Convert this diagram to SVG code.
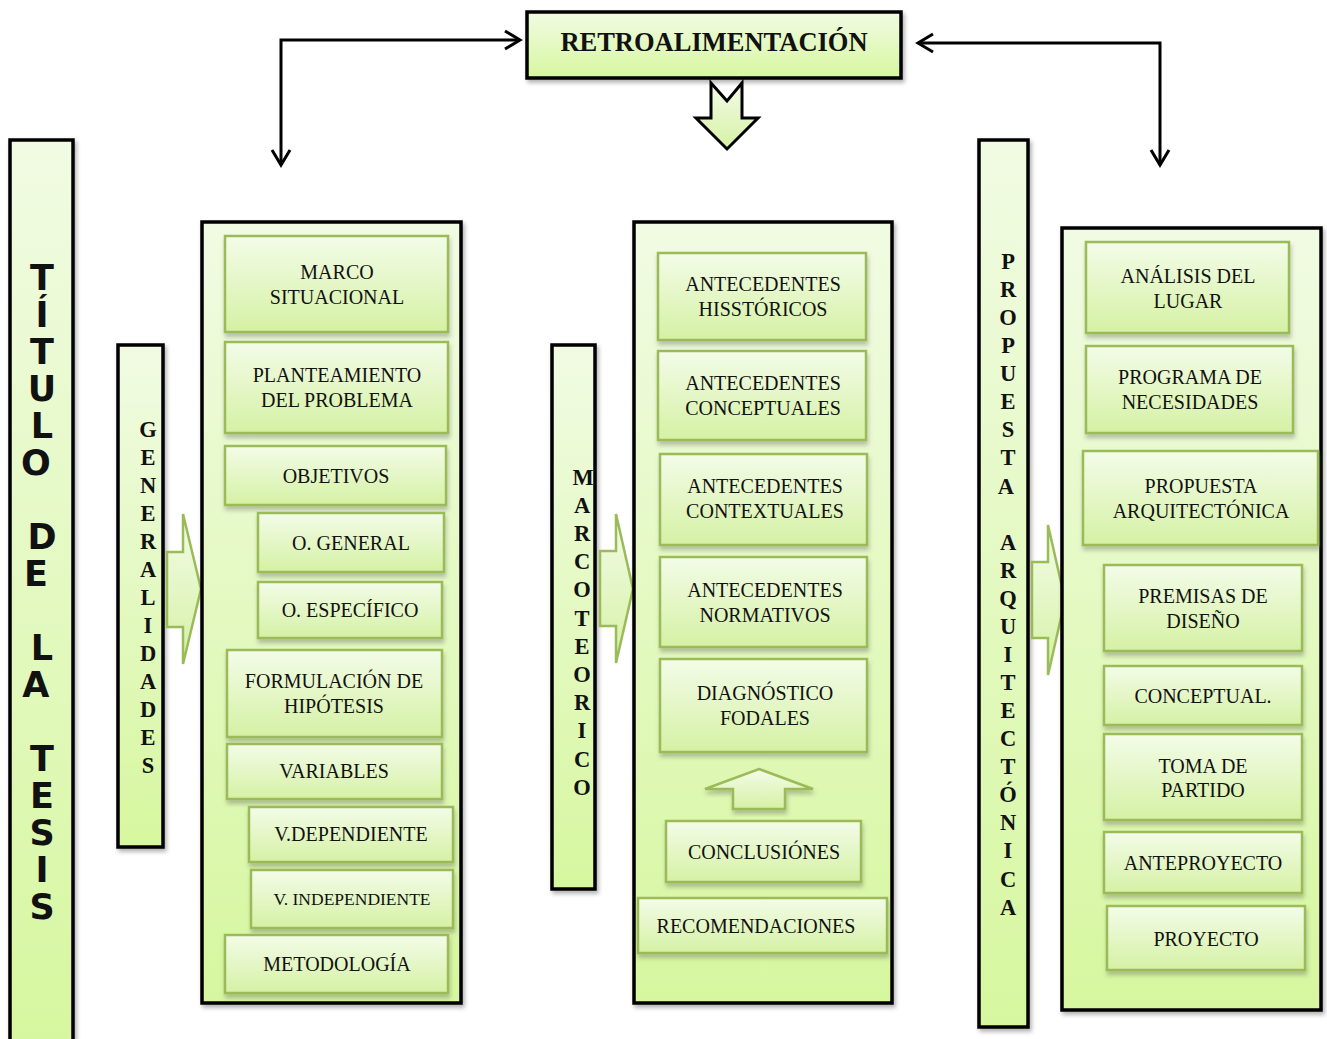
<svg xmlns="http://www.w3.org/2000/svg" width="1327" height="1039" viewBox="0 0 1327 1039">
<defs>
<linearGradient id="gb" x1="0" y1="0" x2="0" y2="1">
<stop offset="0" stop-color="#f3fce8"/><stop offset="1" stop-color="#d5f1a4"/>
</linearGradient>
<linearGradient id="gc" x1="0" y1="0" x2="0" y2="1">
<stop offset="0" stop-color="#f1fbe3"/><stop offset="1" stop-color="#d6f79f"/>
</linearGradient>
<filter id="sh" x="-10%" y="-10%" width="130%" height="130%">
<feDropShadow dx="2" dy="3" stdDeviation="2" flood-color="#000" flood-opacity="0.3"/>
</filter>
<filter id="shs" x="-10%" y="-10%" width="130%" height="130%">
<feDropShadow dx="1" dy="4" stdDeviation="2" flood-color="#555" flood-opacity="0.35"/>
</filter>
<marker id="ab" viewBox="0 0 24 24" refX="21" refY="12" markerWidth="24" markerHeight="24" orient="auto-start-reverse" markerUnits="userSpaceOnUse">
<path d="M6,3 L21,12 L6,21" fill="none" stroke="#000" stroke-width="3"/>
</marker>
<marker id="ag" viewBox="0 0 24 24" refX="22" refY="12" markerWidth="24" markerHeight="24" orient="auto" markerUnits="userSpaceOnUse">
<path d="M6,3 L22,12 L6,21" fill="none" stroke="#9bbb59" stroke-width="2.2"/>
</marker>
</defs>
<style>
.cont{fill:url(#gc);stroke:#000;stroke-width:3.5;filter:url(#sh)}
.bar{fill:url(#gc);stroke:#000;stroke-width:3.5;filter:url(#sh)}
.box{fill:url(#gb);stroke:#9bbb59;stroke-width:2.5;filter:url(#shs)}
.blk{fill:url(#gb);stroke:#9bbb59;stroke-width:2.5}
.lbl{font-family:"Liberation Serif","Times New Roman",serif;font-size:20px;fill:#111;text-anchor:middle}
.vt{font-family:"Liberation Serif","Times New Roman",serif;font-size:22.5px;font-weight:bold;fill:#111;text-anchor:middle}
.tt{font-family:"DejaVu Sans","Liberation Sans",sans-serif;font-size:35px;font-weight:bold;fill:#111;text-anchor:middle}
.gl{fill:none;stroke:#9bbb59;stroke-width:2.2}
.bl{fill:none;stroke:#000;stroke-width:3}
</style>

<g id="connectors">
<path class="bl" d="M281,165 V40 H520" marker-start="url(#ab)" marker-end="url(#ab)"/>
<path class="bl" d="M918,43 H1160 V165" marker-start="url(#ab)" marker-end="url(#ab)"/>
<path class="gl" d="M226,478 H212 V611"/>
<path class="gl" d="M212,546 H253" marker-end="url(#ag)"/>
<path class="gl" d="M212,611 H253" marker-end="url(#ag)"/>
<path class="gl" d="M228,768 H212 V900"/>
<path class="gl" d="M212,835 H252" marker-end="url(#ag)"/>
<path class="gl" d="M212,900 H252" marker-end="url(#ag)"/>
<path class="gl" d="M1085,493 H1072 V935"/>
<path class="gl" d="M1072,605 H1105" marker-end="url(#ag)"/>
<path class="gl" d="M1072,693 H1105" marker-end="url(#ag)"/>
<path class="gl" d="M1072,766 H1105" marker-end="url(#ag)"/>
<path class="gl" d="M1072,853 H1105" marker-end="url(#ag)"/>
<path class="gl" d="M1072,935 H1108" marker-end="url(#ag)"/>
</g>

<g id="retroalimentacion">
<rect class="cont" x="527" y="12" width="374" height="66"/>
<text x="714" y="51" style="font-family:'Liberation Serif',serif;font-size:26.5px;font-weight:bold;fill:#111;text-anchor:middle">RETROALIMENTACIÓN</text>
</g>
<g id="down-arrow">
<path d="M711,83 L727,101 L742,83 L742,118 L758,118 L727,149 L696,118 L711,118 Z" fill="url(#gb)" stroke="#000" stroke-width="3" stroke-linejoin="miter"/>
</g>

<g id="titulo">
<rect class="bar" x="10" y="140" width="63" height="905"/>
<text class="tt">
<tspan x="42" y="290">T</tspan><tspan x="42" y="327">Í</tspan><tspan x="42" y="364">T</tspan><tspan x="42" y="401">U</tspan><tspan x="42" y="438">L</tspan><tspan x="42" y="475">O</tspan>
<tspan x="42" y="549">D</tspan><tspan x="42" y="586">E</tspan>
<tspan x="42" y="660">L</tspan><tspan x="42" y="697">A</tspan>
<tspan x="42" y="771">T</tspan><tspan x="42" y="808">E</tspan><tspan x="42" y="845">S</tspan><tspan x="42" y="882">I</tspan><tspan x="42" y="919">S</tspan>
</text>
</g>

<g id="generalidades">
<rect class="bar" x="118" y="345" width="45" height="502"/>
<text class="vt">
<tspan x="148" y="437">G</tspan><tspan x="148" y="465">E</tspan><tspan x="148" y="493">N</tspan><tspan x="148" y="521">E</tspan><tspan x="148" y="549">R</tspan><tspan x="148" y="577">A</tspan><tspan x="148" y="605">L</tspan><tspan x="148" y="633">I</tspan><tspan x="148" y="661">D</tspan><tspan x="148" y="689">A</tspan><tspan x="148" y="717">D</tspan><tspan x="148" y="745">E</tspan><tspan x="148" y="773">S</tspan>
</text>
</g>
<g id="arrow-gen">
<path class="blk" d="M167,552 L183,552 L183,514 L201,589 L183,664 L183,627 L167,627 Z"/>
</g>

<g id="col-left">
<rect class="cont" x="202" y="222" width="259" height="781"/>
</g>
<g id="marco-situacional"><rect class="box" x="225" y="236" width="223" height="96"/><text class="lbl" x="337" y="279">MARCO</text><text class="lbl" x="337" y="304">SITUACIONAL</text></g>
<g id="planteamiento"><rect class="box" x="225" y="342" width="223" height="91"/><text class="lbl" x="337" y="382">PLANTEAMIENTO</text><text class="lbl" x="337" y="407">DEL PROBLEMA</text></g>
<g id="objetivos"><rect class="box" x="225" y="446" width="221" height="59"/><text class="lbl" x="336" y="483">OBJETIVOS</text></g>
<g id="o-general"><rect class="box" x="258" y="513" width="186" height="59"/><text class="lbl" x="351" y="550">O. GENERAL</text></g>
<g id="o-especifico"><rect class="box" x="258" y="582" width="184" height="56"/><text class="lbl" x="350" y="617">O. ESPECÍFICO</text></g>
<g id="formulacion"><rect class="box" x="227" y="650" width="215" height="87"/><text class="lbl" x="334" y="688">FORMULACIÓN DE</text><text class="lbl" x="334" y="713">HIPÓTESIS</text></g>
<g id="variables"><rect class="box" x="227" y="744" width="215" height="55"/><text class="lbl" x="334" y="778">VARIABLES</text></g>
<g id="v-dependiente"><rect class="box" x="249" y="807" width="204" height="55"/><text class="lbl" x="351" y="841">V.DEPENDIENTE</text></g>
<g id="v-independiente"><rect class="box" x="251" y="870" width="202" height="58"/><text class="lbl" x="352" y="905" style="font-size:17.5px">V. INDEPENDIENTE</text></g>
<g id="metodologia"><rect class="box" x="225" y="935" width="223" height="58"/><text class="lbl" x="337" y="971">METODOLOGÍA</text></g>

<g id="marcoteorico">
<rect class="bar" x="552" y="345" width="43" height="544"/>
<text class="vt">
<tspan x="583" y="485">M</tspan><tspan x="582" y="513">A</tspan><tspan x="582" y="541">R</tspan><tspan x="582" y="569">C</tspan><tspan x="582" y="597">O</tspan><tspan x="582" y="626">T</tspan><tspan x="582" y="654">E</tspan><tspan x="582" y="682">O</tspan><tspan x="582" y="710">R</tspan><tspan x="582" y="738">I</tspan><tspan x="582" y="767">C</tspan><tspan x="582" y="795">O</tspan>
</text>
</g>
<g id="arrow-mt">
<path class="blk" d="M600,551 L616,551 L616,514 L633,589 L616,663 L616,626 L600,626 Z"/>
</g>

<g id="col-mid">
<rect class="cont" x="634" y="222" width="258" height="781"/>
</g>
<g id="ant-historicos"><rect class="box" x="658" y="253" width="208" height="87"/><text class="lbl" x="763" y="291">ANTECEDENTES</text><text class="lbl" x="763" y="316">HISSTÓRICOS</text></g>
<g id="ant-conceptuales"><rect class="box" x="658" y="351" width="208" height="89"/><text class="lbl" x="763" y="390">ANTECEDENTES</text><text class="lbl" x="763" y="415">CONCEPTUALES</text></g>
<g id="ant-contextuales"><rect class="box" x="660" y="454" width="207" height="91"/><text class="lbl" x="765" y="493">ANTECEDENTES</text><text class="lbl" x="765" y="518">CONTEXTUALES</text></g>
<g id="ant-normativos"><rect class="box" x="660" y="557" width="207" height="90"/><text class="lbl" x="765" y="597">ANTECEDENTES</text><text class="lbl" x="765" y="622">NORMATIVOS</text></g>
<g id="diagnostico"><rect class="box" x="660" y="659" width="207" height="93"/><text class="lbl" x="765" y="700">DIAGNÓSTICO</text><text class="lbl" x="765" y="725">FODALES</text></g>
<g id="up-arrow"><path class="box" d="M759,769 L813,789 L785,789 L785,809 L733,809 L733,789 L705,789 Z"/></g>
<g id="conclusiones"><rect class="box" x="666" y="821" width="195" height="61"/><text class="lbl" x="764" y="859">CONCLUSIÓNES</text></g>
<g id="recomendaciones"><rect class="box" x="638" y="898" width="249" height="55"/><text class="lbl" x="756" y="933">RECOMENDACIONES</text></g>

<g id="propuesta-arq">
<rect class="bar" x="979" y="140" width="49" height="887"/>
<text class="vt">
<tspan x="1008" y="269">P</tspan><tspan x="1008" y="297">R</tspan><tspan x="1008" y="325">O</tspan><tspan x="1008" y="353">P</tspan><tspan x="1008" y="381">U</tspan><tspan x="1008" y="409">E</tspan><tspan x="1008" y="437">S</tspan><tspan x="1008" y="465">T</tspan><tspan x="1008" y="494">A</tspan>
<tspan x="1008" y="550">A</tspan><tspan x="1008" y="578">R</tspan><tspan x="1008" y="606">Q</tspan><tspan x="1008" y="634">U</tspan><tspan x="1008" y="662">I</tspan><tspan x="1008" y="690">T</tspan><tspan x="1008" y="718">E</tspan><tspan x="1008" y="746">C</tspan><tspan x="1008" y="774">T</tspan><tspan x="1008" y="802">Ó</tspan><tspan x="1008" y="830">N</tspan><tspan x="1008" y="858">I</tspan><tspan x="1008" y="887">C</tspan><tspan x="1008" y="915">A</tspan>
</text>
</g>
<g id="arrow-pa">
<path class="blk" d="M1032,562 L1048,562 L1048,525 L1065,600 L1048,675 L1048,638 L1032,638 Z"/>
</g>

<g id="col-right">
<rect class="cont" x="1062" y="228" width="259" height="782"/>
</g>
<g id="analisis"><rect class="box" x="1086" y="242" width="203" height="91"/><text class="lbl" x="1188" y="283">ANÁLISIS DEL</text><text class="lbl" x="1188" y="308">LUGAR</text></g>
<g id="programa"><rect class="box" x="1086" y="346" width="207" height="87"/><text class="lbl" x="1190" y="384">PROGRAMA DE</text><text class="lbl" x="1190" y="409">NECESIDADES</text></g>
<g id="propuesta"><rect class="box" x="1083" y="451" width="235" height="94"/><text class="lbl" x="1201" y="493">PROPUESTA</text><text class="lbl" x="1201" y="518">ARQUITECTÓNICA</text></g>
<g id="premisas"><rect class="box" x="1104" y="565" width="198" height="86"/><text class="lbl" x="1203" y="603">PREMISAS DE</text><text class="lbl" x="1203" y="628">DISEÑO</text></g>
<g id="conceptual"><rect class="box" x="1104" y="666" width="198" height="59"/><text class="lbl" x="1203" y="703">CONCEPTUAL.</text></g>
<g id="toma-partido"><rect class="box" x="1104" y="734" width="198" height="86"/><text class="lbl" x="1203" y="773">TOMA DE</text><text class="lbl" x="1203" y="797">PARTIDO</text></g>
<g id="anteproyecto"><rect class="box" x="1104" y="832" width="198" height="61"/><text class="lbl" x="1203" y="870">ANTEPROYECTO</text></g>
<g id="proyecto"><rect class="box" x="1107" y="906" width="198" height="64"/><text class="lbl" x="1206" y="946">PROYECTO</text></g>
</svg>
